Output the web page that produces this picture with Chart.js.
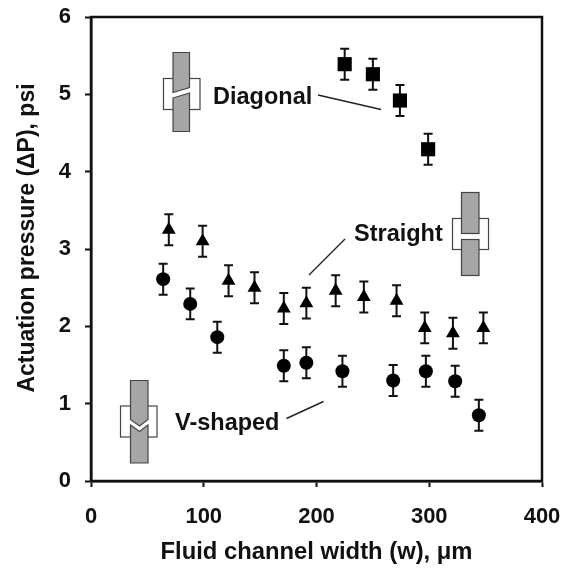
<!DOCTYPE html>
<html>
<head>
<meta charset="utf-8">
<style>
  html, body { margin: 0; padding: 0; background: #fff; }
  #chart { display: block; }
</style>
<script src="https://cdn.jsdelivr.net/npm/chart.js@4"></script>
</head>
<body>
<canvas id="chart" width="574" height="568"></canvas>
<script>
// Values
const diagonalWidth = [225, 250, 274, 299];
const diagonalPressure = [5.39, 5.26, 4.92, 4.29];
const diagonalError = [0.2, 0.2, 0.2, 0.2];

const straightWidth = [69, 99, 122, 145, 171, 191, 217, 242, 271, 296, 321, 348];
const straightPressure = [3.25, 3.10, 2.59, 2.50, 2.23, 2.30, 2.46, 2.38, 2.33, 1.98, 1.91, 1.98];
const straightError = [0.2, 0.2, 0.2, 0.2, 0.2, 0.2, 0.2, 0.2, 0.2, 0.2, 0.2, 0.2];

const vShapedWidth = [64, 88, 112, 171, 191, 223, 268, 297, 323, 344];
const vShapedPressure = [2.61, 2.29, 1.86, 1.49, 1.53, 1.42, 1.30, 1.42, 1.29, 0.85];
const vShapedError = [0.2, 0.2, 0.2, 0.2, 0.2, 0.2, 0.2, 0.2, 0.2, 0.2];

const xTicks = [0, 100, 200, 300, 400];
const yTicks = [0, 1, 2, 3, 4, 5, 6];

const toPoints = (xs, ys) => xs.map((x, i) => ({ x: x, y: ys[i] }));

// Tick labels must not push the plot area in, it has a fixed place
function fixScalePadding(scale) {
    scale.paddingTop = 0;
    scale.paddingBottom = 0;
    scale.paddingLeft = 0;
    scale.paddingRight = 0;
}

// Error bars go through the chart scales, one entry per dataset
const errorBars = {
    id: 'errorBars',
    beforeDatasetsDraw(chart) {
        const ctx = chart.ctx;
        const xScale = chart.scales.x;
        const yScale = chart.scales.y;
        ctx.save();
        ctx.strokeStyle = '#111';
        ctx.lineWidth = 2;
        chart.data.datasets.forEach(set => {
            set.data.forEach((p, i) => {
                const px = xScale.getPixelForValue(p.x);
                const top = yScale.getPixelForValue(p.y + set.errors[i]);
                const bottom = yScale.getPixelForValue(p.y - set.errors[i]);
                ctx.beginPath();
                ctx.moveTo(px, top);
                ctx.lineTo(px, bottom);
                ctx.moveTo(px - 4.5, top);
                ctx.lineTo(px + 4.5, top);
                ctx.moveTo(px - 4.5, bottom);
                ctx.lineTo(px + 4.5, bottom);
                ctx.stroke();
            });
        });
        ctx.restore();
    },
};

function outlinedRect(ctx, x, y, w, h, fill) {
    ctx.fillStyle = fill;
    ctx.fillRect(x, y, w, h);
    ctx.strokeRect(x, y, w, h);
}

function outlinedPoly(ctx, pts, fill) {
    ctx.beginPath();
    pts.forEach((p, i) => (i ? ctx.lineTo(p[0], p[1]) : ctx.moveTo(p[0], p[1])));
    ctx.closePath();
    ctx.fillStyle = fill;
    ctx.fill();
    ctx.stroke();
}

// Channel sketches, callout lines, labels and the frame
const decorations = {
    id: 'decorations',
    afterDraw(chart) {
        const ctx = chart.ctx;
        const area = chart.chartArea;
        const grey = '#a6a6a6';
        ctx.save();

        // frame
        ctx.strokeStyle = '#111';
        ctx.lineWidth = 2.5;
        ctx.strokeRect(area.left, area.top, area.right - area.left, area.bottom - area.top);

        ctx.strokeStyle = '#444';
        ctx.lineWidth = 1.2;

        // diagonal sketch
        outlinedRect(ctx, 163.5, 78.5, 36.5, 31, '#fff');
        outlinedPoly(ctx, [[173, 52.5], [189.5, 52.5], [189.5, 87.5], [173, 92.5]], grey);
        outlinedPoly(ctx, [[173, 98], [189.5, 93], [189.5, 131.5], [173, 131.5]], grey);

        // straight sketch
        outlinedRect(ctx, 452.5, 218.5, 36, 31, '#fff');
        outlinedRect(ctx, 461.5, 192.5, 17.5, 41, grey);
        outlinedRect(ctx, 461.5, 239.5, 17.5, 36, grey);

        // v-shaped sketch
        outlinedRect(ctx, 120.5, 406, 36.5, 31, '#fff');
        outlinedPoly(ctx, [[130.5, 380.5], [148, 380.5], [148, 419.5], [139.5, 426], [130.5, 419.5]], grey);
        outlinedPoly(ctx, [[130.5, 425], [139.5, 431.5], [148, 425], [148, 463], [130.5, 463]], grey);

        // callouts
        ctx.strokeStyle = '#222';
        ctx.lineWidth = 1.4;
        ctx.beginPath();
        ctx.moveTo(318, 95);
        ctx.lineTo(381, 109.5);
        ctx.moveTo(345, 239);
        ctx.lineTo(309, 275);
        ctx.moveTo(286.5, 418.5);
        ctx.lineTo(323.5, 401.5);
        ctx.stroke();

        // labels
        ctx.fillStyle = '#111';
        ctx.font = 'bold 23.5px "Liberation Sans"';
        ctx.textAlign = 'left';
        ctx.textBaseline = 'alphabetic';
        ctx.fillText('Diagonal', 213, 104);
        ctx.fillText('Straight', 354, 241);
        ctx.fillText('V-shaped', 175, 430);

        // y axis title sits above the axis centre in the original
        ctx.translate(34, 238);
        ctx.rotate(-Math.PI / 2);
        ctx.textAlign = 'center';
        ctx.font = 'bold 23px "Liberation Sans"';
        ctx.fillText('Actuation pressure (ΔP), psi', 0, 0);
        ctx.restore();
    },
};

const tickFont = { family: '"Liberation Sans"', size: 22, weight: 'bold' };
const titleFont = { family: '"Liberation Sans"', size: 23.8, weight: 'bold' };

new Chart(document.getElementById('chart'), {
    type: 'scatter',
    data: {
        datasets: [
            {
                label: 'Diagonal',
                data: toPoints(diagonalWidth, diagonalPressure),
                errors: diagonalError,
                pointStyle: 'rect',
                pointRadius: 10,
                backgroundColor: '#000',
                borderWidth: 0,
            },
            {
                label: 'Straight',
                data: toPoints(straightWidth, straightPressure),
                errors: straightError,
                pointStyle: 'triangle',
                pointRadius: 8,
                backgroundColor: '#000',
                borderWidth: 0,
            },
            {
                label: 'V-shaped',
                data: toPoints(vShapedWidth, vShapedPressure),
                errors: vShapedError,
                pointStyle: 'circle',
                pointRadius: 7,
                backgroundColor: '#000',
                borderWidth: 0,
            },
        ],
    },
    options: {
        responsive: false,
        animation: false,
        events: [],
        layout: { padding: { top: 17, right: 32, left: 0, bottom: 0 } },
        plugins: { legend: { display: false }, tooltip: { enabled: false } },
        scales: {
            x: {
                type: 'linear',
                min: 0,
                max: 400,
                afterFit: scale => { scale.height = 87; fixScalePadding(scale); },
                afterBuildTicks: scale => { scale.ticks = xTicks.map(v => ({ value: v })); },
                grid: { drawOnChartArea: false, tickLength: 6, tickWidth: 2, tickColor: '#111' },
                border: { color: '#111', width: 2.5 },
                ticks: { color: '#111', font: tickFont, padding: 17, maxRotation: 0 },
                title: { display: true, text: 'Fluid channel width (w), μm', color: '#111', font: titleFont, padding: { top: 0, bottom: 1 } },
            },
            y: {
                type: 'linear',
                min: 0,
                max: 6,
                afterFit: scale => { scale.width = 91; fixScalePadding(scale); },
                afterBuildTicks: scale => { scale.ticks = yTicks.map(v => ({ value: v })); },
                grid: { drawOnChartArea: false, tickLength: 6, tickWidth: 2, tickColor: '#111' },
                border: { color: '#111', width: 2.5 },
                ticks: { color: '#111', font: tickFont, padding: 14 },
            },
        },
    },
    plugins: [errorBars, decorations],
});
</script>
</body>
</html>
